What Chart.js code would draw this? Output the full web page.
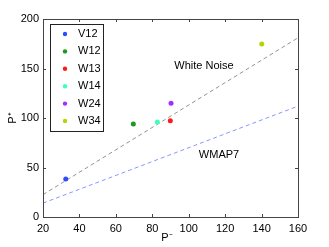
<!DOCTYPE html>
<html>
<head>
<meta charset="utf-8">
<script src="https://cdn.jsdelivr.net/npm/chart.js@4.4.0/dist/chart.umd.min.js"></script>
<style>
  html, body { margin: 0; padding: 0; background: #fff; }
  #wrap { width: 329px; height: 247px; }
</style>
</head>
<body>
<div id="wrap"><canvas id="chart" width="329" height="247"></canvas></div>
<script>
const names = ["V12", "W12", "W13", "W14", "W24", "W34"];
const pMinus = [32.5, 69.6, 89.9, 82.8, 90.3, 140.1];
const pPlus = [38.4, 94, 97.3, 96, 115, 174.7];
const colors = ["#2b4cff", "#1a9a1a", "#ff1a1a", "#40ffb8", "#a030ff", "#b8d400"];

const lineX = [20, 160];
const whiteNoiseY = [22.6, 181];
const wmapY = [14, 112];

const xTicks = [20, 40, 60, 80, 100, 120, 140, 160];
const yTicks = [0, 50, 100, 150, 200];

const font = "Liberation Sans, Arial, sans-serif";

const datasets = names.map((n, i) => ({
  type: "scatter",
  label: n,
  data: [{ x: pMinus[i], y: pPlus[i] }],
  backgroundColor: colors[i],
  borderColor: colors[i],
  pointRadius: 2.5,
  borderWidth: 0
}));

datasets.push({
  type: "line",
  label: "White Noise",
  data: lineX.map((x, i) => ({ x: x, y: whiteNoiseY[i] })),
  borderColor: "#777",
  borderWidth: 0.8,
  borderDash: [4, 3],
  pointRadius: 0
});
datasets.push({
  type: "line",
  label: "WMAP7",
  data: lineX.map((x, i) => ({ x: x, y: wmapY[i] })),
  borderColor: "#6a7cff",
  borderWidth: 0.8,
  borderDash: [4, 3],
  pointRadius: 0
});

// box, inside ticks, legend, text labels
const extras = {
  id: "extras",
  afterDraw(c) {
    const ctx = c.ctx;
    const a = c.chartArea;
    const xs = c.scales.x, ys = c.scales.y;
    ctx.save();
    ctx.strokeStyle = "#444";
    ctx.lineWidth = 1;
    ctx.strokeRect(a.left + 0.5, a.top + 0.5, a.right - a.left, a.bottom - a.top);
    ctx.beginPath();
    xTicks.forEach(v => {
      const px = Math.round(xs.getPixelForValue(v)) + 0.5;
      ctx.moveTo(px, a.bottom); ctx.lineTo(px, a.bottom - 3);
      ctx.moveTo(px, a.top); ctx.lineTo(px, a.top + 3);
    });
    yTicks.forEach(v => {
      const py = Math.round(ys.getPixelForValue(v)) + 0.5;
      ctx.moveTo(a.left, py); ctx.lineTo(a.left + 3, py);
      ctx.moveTo(a.right, py); ctx.lineTo(a.right - 3, py);
    });
    ctx.stroke();

    // legend
    ctx.fillStyle = "#fff";
    ctx.fillRect(50, 24, 53, 107);
    ctx.strokeStyle = "#222";
    ctx.strokeRect(50.5, 24.5, 53, 107);
    ctx.font = "11px " + font;
    ctx.textBaseline = "middle";
    names.forEach((n, i) => {
      const y = 34 + i * 17.4;
      ctx.fillStyle = colors[i];
      ctx.beginPath();
      ctx.arc(65, y, 2.2, 0, Math.PI * 2);
      ctx.fill();
      ctx.fillStyle = "#000";
      ctx.textAlign = "left";
      ctx.fillText(n, 78, y);
    });

    // annotations
    ctx.fillStyle = "#000";
    ctx.textAlign = "center";
    ctx.fillText("White Noise", 204, 66);
    ctx.fillText("WMAP7", 219, 155);
    ctx.fillText("P\u207B", 167, 238);
    ctx.translate(13, 118);
    ctx.rotate(-Math.PI / 2);
    ctx.fillText("P\u207A", 0, 0);
    ctx.restore();
  }
};

new Chart(document.getElementById("chart"), {
  data: { datasets: datasets },
  options: {
    responsive: false,
    animation: false,
    layout: { padding: { left: 0, right: 31, top: 19, bottom: 0 } },
    plugins: { legend: { display: false }, tooltip: { enabled: false } },
    scales: {
      x: {
        type: "linear",
        min: 20, max: 160,
        afterFit: s => { s.height = 30; },
        afterBuildTicks: s => { s.ticks = xTicks.map(v => ({ value: v })); },
        grid: { display: false, drawTicks: false },
        border: { display: false },
        ticks: { color: "#000", font: { family: font, size: 11 }, padding: 5, maxRotation: 0 }
      },
      y: {
        type: "linear",
        min: 0, max: 200,
        afterFit: s => { s.width = 43; },
        afterBuildTicks: s => { s.ticks = yTicks.map(v => ({ value: v })); },
        grid: { display: false, drawTicks: false },
        border: { display: false },
        ticks: { color: "#000", font: { family: font, size: 11 }, padding: 4 }
      }
    }
  },
  plugins: [extras]
});
</script>
</body>
</html>
